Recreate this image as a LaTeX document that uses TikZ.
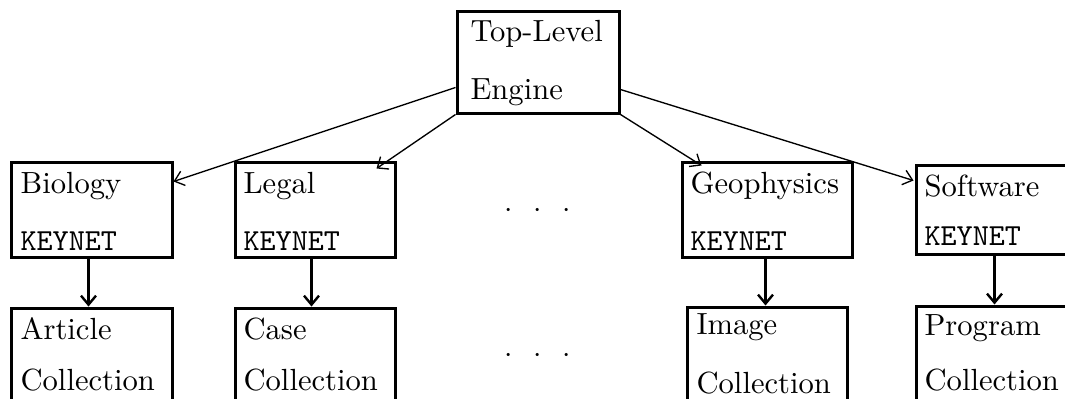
\documentclass[tikz,border=0pt]{standalone}
\usetikzlibrary{fit,calc,arrows.meta}
\begin{document}
\begin{tikzpicture}[x=0.33333pt,y=-0.33333pt,
  box/.style={draw,line width=1pt,inner sep=0pt},
  txt/.style={anchor=base west,inner sep=0pt,font=\fontsize{10.2}{12}\selectfont},
  diag/.style={line width=0.45pt,-{Straight Barb[length=3pt,width=5pt]}},
  vert/.style={line width=0.8pt,-{Straight Barb[length=3pt,width=5pt]}},
  dots/.style={anchor=base,inner sep=0pt,font=\fontsize{10.2}{12}\selectfont}]
\clip (0,0) rectangle (1065,398);
\useasboundingbox (0,0) rectangle (1065,398);
% boxes
\node[box,fit={(457,11) (619,113)}] (top) {};
\node[box,fit={(11,162) (172,257)}] (bio) {};
\node[box,fit={(235,162) (395,257)}] (legal) {};
\node[box,fit={(682,162) (852,257)}] (geo) {};
\node[box,fit={(916,165) (1080,254)}] (soft) {};
\node[box,fit={(11,308) (172,420)}] (art) {};
\node[box,fit={(235,308) (395,420)}] (case) {};
\node[box,fit={(687,307) (847,420)}] (img) {};
\node[box,fit={(916,306) (1080,420)}] (prog) {};
% texts
\node[txt] (t1) at (470,41) {Top-Level};
\node[txt] (t2) at (470,99) {Engine};
\node[txt] (b1) at (20,193) {Biology};
\node[txt] (b2) at (20,250) {\texttt{KEYNET}};
\node[txt] (l1) at (243,193) {Legal};
\node[txt] (l2) at (243,250) {\texttt{KEYNET}};
\node[txt] (g1) at (690,193) {Geophysics};
\node[txt] (g2) at (690,250) {\texttt{KEYNET}};
\node[txt] (s1) at (924,196) {Software};
\node[txt] (s2) at (924,245) {\texttt{KEYNET}};
\node[txt] (a1) at (20,339) {Article};
\node[txt] (a2) at (20,390) {Collection};
\node[txt] (c1) at (243,339) {Case};
\node[txt] (c2) at (243,390) {Collection};
\node[txt] (i1) at (696,334) {Image};
\node[txt] (i2) at (696,393) {Collection};
\node[txt] (p1) at (924,335) {Program};
\node[txt] (p2) at (924,390) {Collection};
% dots
\node[dots] (d1) at (538,217) {$\cdot$\hspace{6.9pt}$\cdot$\hspace{6.9pt}$\cdot$};
\node[dots] (d2) at (538,362) {$\cdot$\hspace{6.9pt}$\cdot$\hspace{6.9pt}$\cdot$};
% connectors
\draw[diag] ($(top.south west)+(0,-27)$) -- ($(bio.north east)+(0,21)$);
\draw[diag] (top.south west) -- ($(legal.north east)+(-20,8)$);
\draw[diag] (top.south east) -- ($(geo.north west)+(21,5)$);
\draw[diag] ($(top.south east)+(0,-25)$) -- ($(soft.north west)+(-1,17)$);
\draw[vert] ($(bio.south west)+(79,0)$) -- ($(art.north west)+(79,0)$);
\draw[vert] ($(legal.south west)+(78,0)$) -- ($(case.north west)+(78,0)$);
\draw[vert] ($(geo.south west)+(85,0)$) -- ($(img.north west)+(80,0)$);
\draw[vert] ($(soft.south west)+(80,0)$) -- ($(prog.north west)+(80,0)$);
\end{tikzpicture}
\end{document}
